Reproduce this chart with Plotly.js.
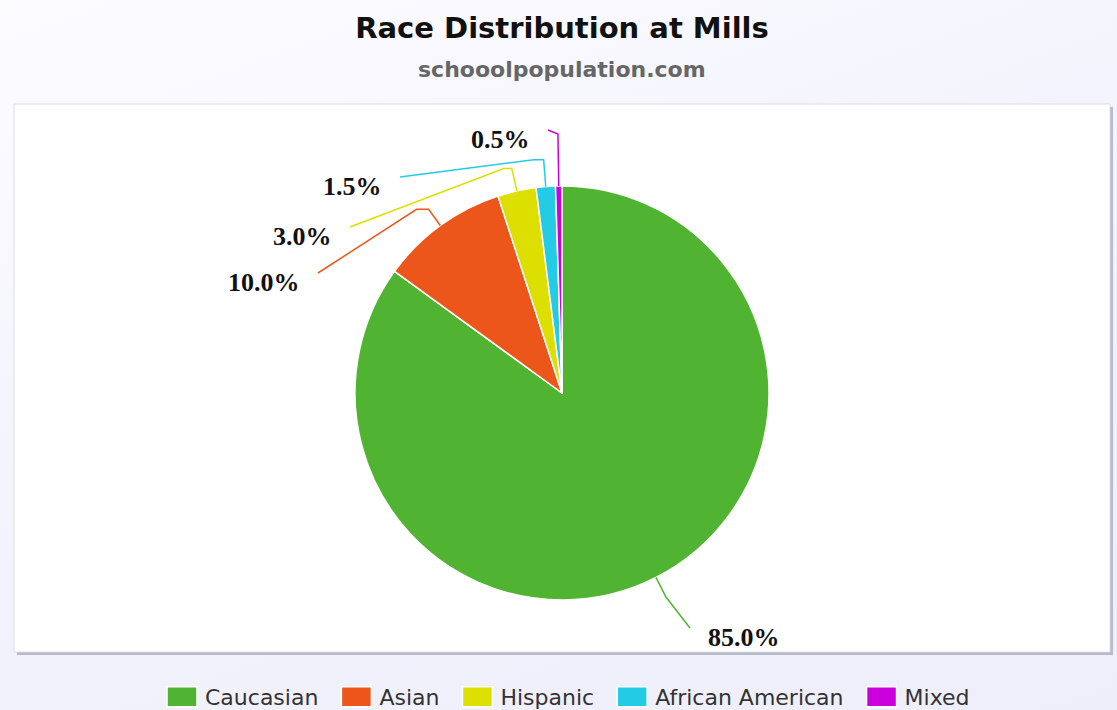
<!DOCTYPE html>
<html>
<head>
<meta charset="utf-8">
<script src="https://cdn.plot.ly/plotly-3.0.1.min.js"></script>
<style>
  html, body { margin: 0; padding: 0; }
  body { background: linear-gradient(160deg, #fcfcff 0%, #f4f4fd 40%, #eeeefb 100%); width: 1117px; height: 710px; }
  #chart { width: 1117px; height: 710px; }
</style>
</head>
<body>
<div id="chart"></div>
<script>
// ---- data ----
const categories = ['Caucasian', 'Asian', 'Hispanic', 'African American', 'Mixed'];
const shares = [85.0, 10.0, 3.0, 1.5, 0.5];
const labelTexts = ['85.0%', '10.0%', '3.0%', '1.5%', '0.5%'];
const colors = ['#50b432', '#ed561b', '#dddf00', '#24cbe5', '#cc00dd'];

// ---- layout constants (pixels) ----
const W = 1117, H = 710;
const M = { l: 14, r: 7, t: 104, b: 58, autoexpand: false };
const plotW = W - M.l - M.r, plotH = H - M.t - M.b;
const pieDomain = { x: [0.3111, 0.6889], y: [0.0949, 0.8504] };
// connector end points (pixels), side of label, elbow distance beyond radius, horizontal step
const labelEnds = [[690, 628], [318, 273], [350, 227], [400, 177], [548, 130]];
const labelSide = [1, -1, -1, -1, -1];
const elbowExtra = [22, 20, 23, 27, 52];
const elbowStep = [0, 12, 8, 10, 0];

const toPX = x => (x - M.l) / plotW;
const toPY = y => (M.t + plotH - y) / plotH;

const cx = M.l + plotW * (pieDomain.x[0] + pieDomain.x[1]) / 2;
const cy = M.t + plotH * (1 - (pieDomain.y[0] + pieDomain.y[1]) / 2);
const R = Math.min(plotW * (pieDomain.x[1] - pieDomain.x[0]), plotH * (pieDomain.y[1] - pieDomain.y[0])) / 2;

const total = shares.reduce((a, b) => a + b, 0);
const shapes = [
  { type: 'rect', xref: 'paper', yref: 'paper', layer: 'below',
    x0: 3 / plotW, x1: 1 + 3 / plotW, y0: -3 / plotH, y1: 1 - 3 / plotH,
    fillcolor: '#b9b9c9', line: { width: 0 } },
  { type: 'rect', xref: 'paper', yref: 'paper', layer: 'below',
    x0: 0, x1: 1, y0: 0, y1: 1,
    fillcolor: '#ffffff', line: { color: '#dcdce6', width: 1 } }
];
const annotations = [
  { xref: 'paper', yref: 'paper', x: 0.5, y: toPY(70), text: 'schooolpopulation.com',
    showarrow: false, xanchor: 'center', yanchor: 'middle',
    font: { family: 'DejaVu Sans', size: 22, color: '#666666', weight: 700 } }
];

let cum = 0;
shares.forEach((v, i) => {
  const mid = (cum + v / 2) / total * 2 * Math.PI; // clockwise from 12 o'clock
  cum += v;
  const dx = Math.sin(mid), dy = -Math.cos(mid);
  const sx = cx + dx * R, sy = cy + dy * R;
  const ex = cx + dx * (R + elbowExtra[i]), ey = cy + dy * (R + elbowExtra[i]);
  const hx = ex + labelSide[i] * elbowStep[i];
  const [tx, ty] = labelEnds[i];
  const path = `M${toPX(sx)},${toPY(sy)} L${toPX(ex)},${toPY(ey)} L${toPX(hx)},${toPY(ey)} L${toPX(tx)},${toPY(ty)}`;
  shapes.push({ type: 'path', xref: 'paper', yref: 'paper', path: path,
    line: { color: colors[i], width: 1.5 } });
  annotations.push({ xref: 'paper', yref: 'paper', x: toPX(tx), y: toPY(ty),
    text: labelTexts[i], showarrow: false,
    xanchor: labelSide[i] > 0 ? 'left' : 'right', yanchor: 'middle',
    xshift: labelSide[i] * 16, yshift: -9,
    font: { family: 'Liberation Serif', size: 26, color: '#111111', weight: 700 } });
});

const trace = {
  type: 'pie',
  labels: categories,
  values: shares,
  sort: false,
  direction: 'clockwise',
  rotation: 0,
  textinfo: 'none',
  hoverinfo: 'label+percent',
  marker: { colors: colors, line: { color: '#ffffff', width: 1.5 } },
  domain: pieDomain
};

const layout = {
  width: W, height: H,
  margin: M,
  paper_bgcolor: 'rgba(0,0,0,0)',
  title: {
    text: 'Race Distribution at Mills',
    x: 0.5, xref: 'paper', xanchor: 'center',
    y: 1 - 28 / H, yref: 'container', yanchor: 'middle',
    font: { family: 'DejaVu Sans', size: 29, color: '#111111', weight: 700 }
  },
  showlegend: true,
  legend: {
    orientation: 'h', x: 0.5, xanchor: 'center', y: toPY(697), yanchor: 'middle',
    itemwidth: 46,
    font: { family: 'DejaVu Sans', size: 22, color: '#333333' },
    bgcolor: 'rgba(0,0,0,0)', traceorder: 'normal'
  },
  shapes: shapes,
  annotations: annotations
};

Plotly.newPlot('chart', [trace], layout, { displayModeBar: false, staticPlot: true }).then(gd => {
  // wide swatch blocks like the reference legend
  gd.querySelectorAll('.legend path.legendpie').forEach(p => p.setAttribute('d', 'M20,10H-10V-10H20Z'));
});
</script>
</body>
</html>
